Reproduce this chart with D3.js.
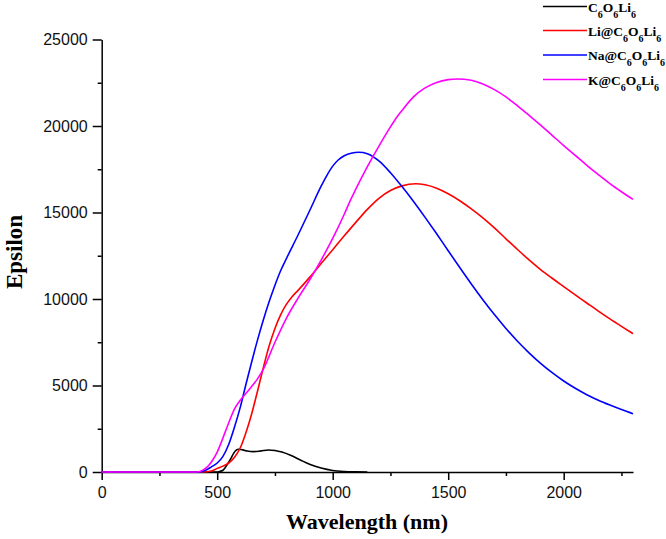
<!DOCTYPE html>
<html>
<head>
<meta charset="utf-8">
<script src="https://cdn.jsdelivr.net/npm/d3@7"></script>
<style>
  body { margin: 0; background: #fff; }
  svg { display: block; }
</style>
</head>
<body>
<svg id="chart" width="666" height="539"></svg>
<script>
// ---------- DATA ----------
const seriesNames = ["C6O6Li6", "Li@C6O6Li6", "Na@C6O6Li6", "K@C6O6Li6"];
const seriesColors = ["#000000", "#ff0000", "#0000ff", "#ff00ff"];

const wlBlack = [0, 450, 490, 510, 525, 542, 560, 571, 592, 610, 630, 656, 690, 721, 750, 780, 820, 860, 900, 950, 1000, 1050, 1100, 1150];
const epsBlack = [0, 0, 0, 30, 100, 400, 800, 1080, 1312, 1280, 1210, 1175, 1220, 1272, 1240, 1150, 950, 694, 450, 230, 90, 30, 8, 0];

const wlRed = [0, 440, 475, 500, 525, 550, 575, 600, 625, 650, 675, 700, 725, 750, 775, 800, 825, 850, 900, 950, 1000, 1050, 1100, 1150, 1200, 1250, 1300, 1359, 1400, 1450, 1500, 1550, 1600, 1650, 1700, 1750, 1800, 1850, 1900, 1950, 2000, 2050, 2100, 2150, 2200, 2250, 2300];
const epsRed = [0, 0, 60, 210, 340, 520, 850, 1400, 2300, 3400, 4700, 6050, 7300, 8300, 9100, 9700, 10150, 10500, 11250, 12050, 12850, 13650, 14430, 15180, 15820, 16270, 16540, 16660, 16600, 16400, 16080, 15680, 15210, 14690, 14110, 13480, 12860, 12260, 11700, 11200, 10720, 10240, 9770, 9300, 8850, 8420, 8000];

const wlBlue = [0, 425, 450, 475, 500, 525, 550, 575, 600, 625, 650, 675, 700, 725, 750, 775, 800, 850, 900, 950, 975, 1000, 1025, 1050, 1080, 1113, 1150, 1200, 1250, 1300, 1350, 1400, 1450, 1500, 1550, 1600, 1650, 1700, 1750, 1800, 1850, 1900, 1950, 2000, 2050, 2100, 2150, 2200, 2250, 2300];
const epsBlue = [0, 0, 100, 300, 520, 900, 1600, 2600, 3750, 5100, 6400, 7650, 8800, 9850, 10800, 11650, 12350, 13700, 15100, 16520, 17150, 17680, 18050, 18280, 18430, 18480, 18400, 17980, 17300, 16500, 15640, 14720, 13770, 12790, 11820, 10870, 9960, 9100, 8300, 7560, 6890, 6280, 5740, 5260, 4840, 4470, 4150, 3870, 3610, 3370];

const wlMagenta = [0, 412, 440, 460, 477, 500, 520, 550, 575, 600, 625, 650, 675, 700, 750, 800, 850, 900, 950, 1000, 1050, 1077, 1100, 1150, 1207, 1250, 1279, 1300, 1351, 1400, 1450, 1500, 1539, 1600, 1650, 1700, 1750, 1800, 1850, 1900, 1950, 2000, 2050, 2100, 2150, 2200, 2250, 2300];
const epsMagenta = [0, 0, 120, 330, 620, 1150, 1800, 2850, 3650, 4150, 4550, 4950, 5400, 5950, 7500, 8900, 10050, 11100, 12250, 13500, 14900, 15720, 16350, 17650, 19000, 19950, 20540, 20900, 21700, 22200, 22520, 22680, 22720, 22640, 22430, 22100, 21680, 21170, 20620, 20050, 19460, 18870, 18300, 17730, 17190, 16670, 16200, 15760];

const xMajorTicks = [0, 500, 1000, 1500, 2000];
const xMinorTicks = [250, 750, 1250, 1750, 2250];
const yMajorTicks = [0, 5000, 10000, 15000, 20000, 25000];
const yMinorTicks = [2500, 7500, 12500, 17500, 22500];
const xLabel = "Wavelength (nm)";
const yLabel = "Epsilon";

// ---------- CHART ----------
const svg = d3.select("#chart");
const x = d3.scaleLinear().domain([0, 2300]).range([101.7, 633]);
const y = d3.scaleLinear().domain([0, 25000]).range([472, 39.5]);

const tickFont = "'Liberation Sans', Arial, sans-serif";
const serif = "'Liberation Serif', 'Times New Roman', serif";

// minor ticks
svg.append("g").attr("transform", `translate(0,${y(0)})`)
  .call(d3.axisBottom(x).tickValues(xMinorTicks).tickSize(4).tickFormat(""))
  .call(g => g.select(".domain").remove())
  .call(g => g.selectAll("line").attr("stroke", "#000").attr("stroke-width", 1.5));
svg.append("g").attr("transform", `translate(${x(0)},0)`)
  .call(d3.axisLeft(y).tickValues(yMinorTicks).tickSize(4).tickFormat(""))
  .call(g => g.select(".domain").remove())
  .call(g => g.selectAll("line").attr("stroke", "#000").attr("stroke-width", 1.5));

// major axes
const xAxis = svg.append("g").attr("transform", `translate(0,${y(0)})`)
  .call(d3.axisBottom(x).tickValues(xMajorTicks).tickSize(8).tickSizeOuter(0).tickPadding(7).tickFormat(d3.format("d")));
const yAxis = svg.append("g").attr("transform", `translate(${x(0)},0)`)
  .call(d3.axisLeft(y).tickValues(yMajorTicks).tickSize(9).tickSizeOuter(0).tickPadding(5).tickFormat(d3.format("d")));

[xAxis, yAxis].forEach(g => {
  g.select(".domain").attr("stroke", "#000").attr("stroke-width", 1.5);
  g.selectAll(".tick line").attr("stroke", "#000").attr("stroke-width", 1.5);
  g.selectAll(".tick text").attr("font-family", tickFont).attr("font-size", 16).attr("fill", "#111");
});

// curves
const series = [
  [wlBlack, epsBlack],
  [wlRed, epsRed],
  [wlBlue, epsBlue],
  [wlMagenta, epsMagenta]
];
const line = d3.line().x(d => x(d[0])).y(d => y(d[1])).curve(d3.curveMonotoneX);
series.forEach(([wl, eps], i) => {
  const pts = wl.map((w, j) => [w, eps[j]]);
  svg.append("path").datum(pts)
    .attr("d", line)
    .attr("fill", "none")
    .attr("stroke", seriesColors[i])
    .attr("stroke-width", 1.6)
    .attr("stroke-linejoin", "round");
});

// axis titles
svg.append("text")
  .attr("x", 367).attr("y", 529)
  .attr("text-anchor", "middle")
  .attr("font-family", serif).attr("font-weight", "bold").attr("font-size", 22)
  .text(xLabel);
svg.append("text")
  .attr("transform", "translate(22,252) rotate(-90)")
  .attr("text-anchor", "middle")
  .attr("font-family", serif).attr("font-weight", "bold").attr("font-size", 23)
  .text(yLabel);

// legend
const legendY = [6.5, 30.5, 55, 79.5];
const legend = svg.append("g");
seriesNames.forEach((name, i) => {
  const ly = legendY[i];
  legend.append("line")
    .attr("x1", 543).attr("x2", 587).attr("y1", ly).attr("y2", ly)
    .attr("stroke", seriesColors[i]).attr("stroke-width", 1.6);
  const t = legend.append("text")
    .attr("x", 588).attr("y", ly + 5)
    .attr("font-family", serif).attr("font-weight", "bold").attr("font-size", 13.5);
  const parts = name.match(/(\d+|[^\d]+)/g);
  let prevSub = false;
  parts.forEach(p => {
    const isSub = /^\d+$/.test(p);
    if (isSub) {
      t.append("tspan").attr("font-size", 10).attr("dy", 6).text(p);
    } else {
      t.append("tspan").attr("dy", prevSub ? -6 : 0).text(p);
    }
    prevSub = isSub;
  });
});
</script>
</body>
</html>
